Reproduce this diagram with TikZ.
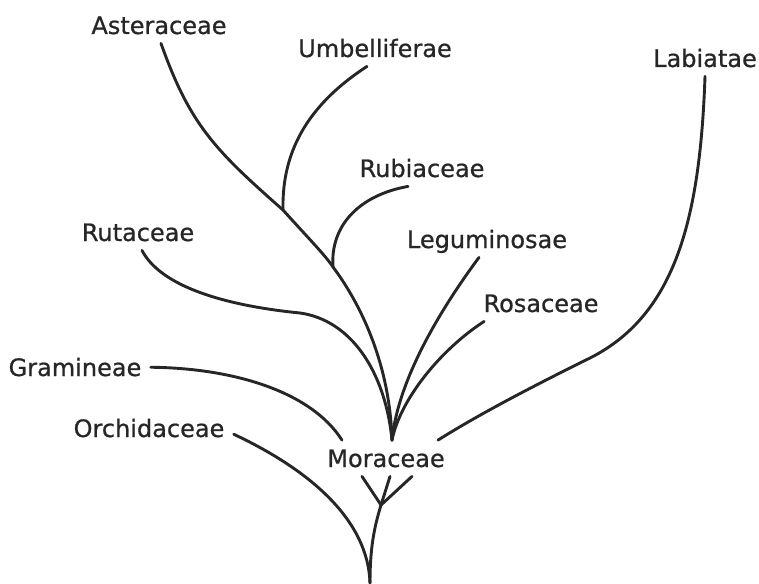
\documentclass[tikz,border=0pt]{standalone}
\usepackage{fontspec}
\setmainfont{DejaVu Sans}
\newfontfamily\lblfont{DejaVu Sans}[FakeBold=0.8]

\begin{document}
\begin{tikzpicture}[
  x=0.5pt, y=-0.5pt,
  lbl/.style={anchor=base, inner sep=4.5pt, text height=8.75pt, text depth=0pt,
    font=\lblfont\fontsize{12}{14}\selectfont, text=black!85},
  br/.style={draw=black!85, line width=1.45pt, line cap=round},
]
\useasboundingbox (0,0) rectangle (759,583);

% --- Family labels ---
\node[lbl] (aster) at (159,34)   {Asteraceae};
\node[lbl] (umb)   at (375,57)   {Umbelliferae};
\node[lbl] (lab)   at (705,67)   {Labiatae};
\node[lbl] (rub)   at (422,177)  {Rubiaceae};
\node[lbl] (rut)   at (138,241)  {Rutaceae};
\node[lbl] (leg)   at (487,248)  {Leguminosae};
\node[lbl] (ros)   at (541,312)  {Rosaceae};
\node[lbl] (gram)  at (75,376)   {Gramineae};
\node[lbl] (orch)  at (149,437)  {Orchidaceae};
\node[lbl] (mora)  at (386,467)  {Moraceae};

% --- Junctions ---
\coordinate (jU)   at (283,210);
\coordinate (jR)   at (333,267);
\coordinate (hub)  at ([xshift=3pt]mora.north);
\coordinate (jlow) at (381,505);
\coordinate (root) at (370,583);

% --- Main stem and its side branches ---
\draw[br] ([xshift=1pt]aster.south) .. controls (190,125) and (215,150) .. (jU)
  .. controls (310,240) and (325,255) .. (jR)
  .. controls (365,310) and (390,370) .. (hub);
\draw[br] ([xshift=-4pt]umb.south) .. controls (300,110) and (282,160) .. (jU);
\draw[br] ([xshift=-7pt]rub.south) .. controls (360,195) and (330,225) .. (jR);

% --- Branches meeting above Moraceae ---
\draw[br] ([xshift=2pt]rut.south) .. controls (160,285) and (220,305) .. (300,313)
  .. controls (350,320) and (385,370) .. (hub);
\draw[br] ([xshift=-4pt]leg.south) .. controls (440,310) and (398,380) .. (hub);
\draw[br] ([xshift=5pt]ros.south west) .. controls (440,350) and (400,400) .. (hub);
\draw[br] (lab.south) .. controls (700,220) and (675,315) .. (590,358)
  .. controls (515,395) and (470,420) .. ([xshift=26pt]mora.north);
\draw[br] (gram.east) .. controls (230,368) and (310,390) .. ([xshift=-22pt]mora.north);

% --- Below Moraceae ---
\draw[br] ([xshift=-12pt]mora.south) -- (jlow);
\draw[br] ([xshift=2pt]mora.south) -- (jlow);
\draw[br] ([xshift=13pt]mora.south) -- (jlow);
\draw[br] (jlow) .. controls (375,525) and (370,545) .. (root);
\draw[br] ([yshift=-3pt]orch.east) .. controls (310,470) and (368,520) .. (root);
\end{tikzpicture}
\end{document}
